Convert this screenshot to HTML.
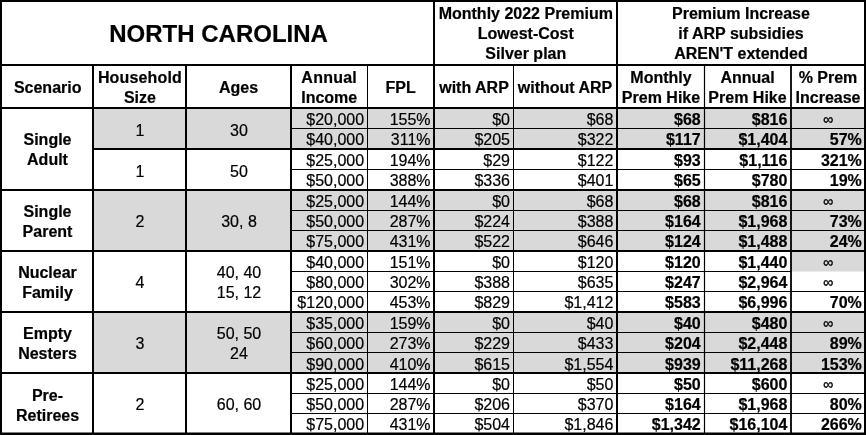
<!DOCTYPE html>
<html lang="en">
<head>
<meta charset="utf-8">
<title>North Carolina – ARP premium scenarios</title>
<style>
html,body{margin:0;padding:0;background:#fff;}
body{width:866px;height:435px;overflow:hidden;}
svg{display:block;will-change:transform;}
text{font-family:"Liberation Sans",Arial,Helvetica,sans-serif;font-size:16px;fill:#000;stroke:#000;stroke-width:0.2px;}
.b{font-weight:bold;}
.m{text-anchor:middle;}
.r{text-anchor:end;}
.t{font-size:24px;font-weight:bold;text-anchor:middle;}
.i{font-size:14px;text-anchor:middle;stroke-width:0.35px;}
</style>
</head>
<body>
<svg width="866" height="435" viewBox="0 0 866 435">
<rect x="0" y="0" width="866" height="435" fill="#fff"/>
<g fill="#d9d9d9">
<rect x="93" y="108.00" width="772" height="41.00"/>
<rect x="93" y="190.00" width="772" height="61.00"/>
<rect x="93" y="312.00" width="772" height="61.00"/>
<rect x="791" y="251.00" width="74" height="20.50"/>
</g>
<g stroke="#000" stroke-width="1">
<line x1="291" y1="128.50" x2="865" y2="128.50"/>
<line x1="291" y1="169.50" x2="865" y2="169.50"/>
<line x1="291" y1="210.50" x2="865" y2="210.50"/>
<line x1="291" y1="230.50" x2="865" y2="230.50"/>
<line x1="291" y1="271.50" x2="791" y2="271.50"/>
<line x1="291" y1="291.50" x2="865" y2="291.50"/>
<line x1="291" y1="332.50" x2="865" y2="332.50"/>
<line x1="291" y1="352.50" x2="865" y2="352.50"/>
<line x1="291" y1="393.50" x2="865" y2="393.50"/>
<line x1="291" y1="413.50" x2="865" y2="413.50"/>
</g>
<line x1="367.5" y1="65" x2="367.5" y2="434" stroke="#000" stroke-width="1"/>
<line x1="513.5" y1="65" x2="513.5" y2="434" stroke="#000" stroke-width="1"/>
<line x1="704.5" y1="65" x2="704.5" y2="434" stroke="#000" stroke-width="1.2"/>
<line x1="791.0" y1="65" x2="791.0" y2="434" stroke="#000" stroke-width="1.8"/>
<g stroke="#000" stroke-width="2">
<line x1="1" y1="0" x2="1" y2="435"/>
<line x1="93" y1="65" x2="93" y2="435"/>
<line x1="186" y1="65" x2="186" y2="435"/>
<line x1="291" y1="65" x2="291" y2="435"/>
<line x1="434" y1="0" x2="434" y2="435"/>
<line x1="617" y1="0" x2="617" y2="435"/>
<line x1="865" y1="0" x2="865" y2="435"/>
<line x1="0" y1="0.9" x2="866" y2="0.9"/>
<line x1="0" y1="65" x2="866" y2="65"/>
<line x1="0" y1="108.00" x2="866" y2="108.00"/>
<line x1="93" y1="149.00" x2="866" y2="149.00"/>
<line x1="0" y1="190.00" x2="866" y2="190.00"/>
<line x1="0" y1="251.00" x2="866" y2="251.00"/>
<line x1="0" y1="312.00" x2="866" y2="312.00"/>
<line x1="0" y1="373.00" x2="866" y2="373.00"/>
<line x1="0" y1="433.75" x2="866" y2="433.75" stroke-width="2.5"/>
</g>
<text class="t" x="218.6" y="41.7">NORTH CAROLINA</text>
<g class="b m">
<text x="525.8" y="18.70">Monthly 2022 Premium</text>
<text x="525.8" y="38.70">Lowest-Cost</text>
<text x="525.8" y="58.70">Silver plan</text>
<text x="741" y="18.70">Premium Increase</text>
<text x="741" y="38.70">if ARP subsidies</text>
<text x="741" y="58.70">AREN'T extended</text>
<text x="47.7" y="92.8">Scenario</text>
<text x="139.9" y="82.8" style="letter-spacing:0.15px">Household</text>
<text x="139.9" y="102.8">Size</text>
<text x="238.5" y="92.8">Ages</text>
<text x="329.2" y="82.8" style="letter-spacing:0.25px">Annual</text>
<text x="329.2" y="102.8">Income</text>
<text x="400.7" y="92.8">FPL</text>
<text x="474" y="92.8">with ARP</text>
<text x="565" y="92.8">without ARP</text>
<text x="661" y="82.8">Monthly</text>
<text x="661" y="102.8">Prem Hike</text>
<text x="747.5" y="82.8">Annual</text>
<text x="747.5" y="102.8">Prem Hike</text>
<text x="828" y="82.8">% Prem</text>
<text x="828" y="102.8">Increase</text>
<text x="47.5" y="145.20">Single</text>
<text x="47.5" y="165.20">Adult</text>
<text x="47.5" y="216.50">Single</text>
<text x="47.5" y="236.50">Parent</text>
<text x="47.5" y="277.90">Nuclear</text>
<text x="47.5" y="297.90">Family</text>
<text x="47.5" y="338.60">Empty</text>
<text x="47.5" y="358.60">Nesters</text>
<text x="47.5" y="400.57">Pre-</text>
<text x="47.5" y="420.57">Retirees</text>
</g>
<g class="m">
<text x="140" y="135.50">1</text>
<text x="239" y="135.50">30</text>
<text x="140" y="176.70">1</text>
<text x="239" y="176.70">50</text>
<text x="140" y="226.70">2</text>
<text x="239" y="226.70">30, 8</text>
<text x="140" y="287.90">4</text>
<text x="239" y="278.10">40, 40</text>
<text x="239" y="298.10">15, 12</text>
<text x="140" y="348.50">3</text>
<text x="239" y="339.10">50, 50</text>
<text x="239" y="359.10">24</text>
<text x="140" y="410.38">2</text>
<text x="239" y="410.38">60, 60</text>
</g>
<g class="r"><text x="364.1" y="124.80">$20,000</text><text x="430.6" y="124.80">155%</text><text x="510.0" y="124.80">$0</text><text x="613.4" y="124.80">$68</text><text class="b" x="700.7" y="124.80">$68</text><text class="b" x="787.4" y="124.80">$816</text><text class="i" x="828" y="123.90">∞</text></g>
<g class="r"><text x="364.1" y="145.20">$40,000</text><text x="430.6" y="145.20">311%</text><text x="510.0" y="145.20">$205</text><text x="613.4" y="145.20">$322</text><text class="b" x="700.7" y="145.20">$117</text><text class="b" x="787.4" y="145.20">$1,404</text><text class="b" x="861.8" y="145.20">57%</text></g>
<g class="r"><text x="364.1" y="166.10">$25,000</text><text x="430.6" y="166.10">194%</text><text x="510.0" y="166.10">$29</text><text x="613.4" y="166.10">$122</text><text class="b" x="700.7" y="166.10">$93</text><text class="b" x="787.4" y="166.10">$1,116</text><text class="b" x="861.8" y="166.10">321%</text></g>
<g class="r"><text x="364.1" y="186.30">$50,000</text><text x="430.6" y="186.30">388%</text><text x="510.0" y="186.30">$336</text><text x="613.4" y="186.30">$401</text><text class="b" x="700.7" y="186.30">$65</text><text class="b" x="787.4" y="186.30">$780</text><text class="b" x="861.8" y="186.30">19%</text></g>
<g class="r"><text x="364.1" y="207.30">$25,000</text><text x="430.6" y="207.30">144%</text><text x="510.0" y="207.30">$0</text><text x="613.4" y="207.30">$68</text><text class="b" x="700.7" y="207.30">$68</text><text class="b" x="787.4" y="207.30">$816</text><text class="i" x="828" y="206.40">∞</text></g>
<g class="r"><text x="364.1" y="227.10">$50,000</text><text x="430.6" y="227.10">287%</text><text x="510.0" y="227.10">$224</text><text x="613.4" y="227.10">$388</text><text class="b" x="700.7" y="227.10">$164</text><text class="b" x="787.4" y="227.10">$1,968</text><text class="b" x="861.8" y="227.10">73%</text></g>
<g class="r"><text x="364.1" y="247.30">$75,000</text><text x="430.6" y="247.30">431%</text><text x="510.0" y="247.30">$522</text><text x="613.4" y="247.30">$646</text><text class="b" x="700.7" y="247.30">$124</text><text class="b" x="787.4" y="247.30">$1,488</text><text class="b" x="861.8" y="247.30">24%</text></g>
<g class="r"><text x="364.1" y="268.20">$40,000</text><text x="430.6" y="268.20">151%</text><text x="510.0" y="268.20">$0</text><text x="613.4" y="268.20">$120</text><text class="b" x="700.7" y="268.20">$120</text><text class="b" x="787.4" y="268.20">$1,440</text><text class="i" x="828" y="267.30">∞</text></g>
<g class="r"><text x="364.1" y="288.10">$80,000</text><text x="430.6" y="288.10">302%</text><text x="510.0" y="288.10">$388</text><text x="613.4" y="288.10">$635</text><text class="b" x="700.7" y="288.10">$247</text><text class="b" x="787.4" y="288.10">$2,964</text><text class="i" x="828" y="287.20">∞</text></g>
<g class="r"><text x="364.1" y="308.20">$120,000</text><text x="430.6" y="308.20">453%</text><text x="510.0" y="308.20">$829</text><text x="613.4" y="308.20">$1,412</text><text class="b" x="700.7" y="308.20">$583</text><text class="b" x="787.4" y="308.20">$6,996</text><text class="b" x="861.8" y="308.20">70%</text></g>
<g class="r"><text x="364.1" y="329.00">$35,000</text><text x="430.6" y="329.00">159%</text><text x="510.0" y="329.00">$0</text><text x="613.4" y="329.00">$40</text><text class="b" x="700.7" y="329.00">$40</text><text class="b" x="787.4" y="329.00">$480</text><text class="i" x="828" y="328.10">∞</text></g>
<g class="r"><text x="364.1" y="349.00">$60,000</text><text x="430.6" y="349.00">273%</text><text x="510.0" y="349.00">$229</text><text x="613.4" y="349.00">$433</text><text class="b" x="700.7" y="349.00">$204</text><text class="b" x="787.4" y="349.00">$2,448</text><text class="b" x="861.8" y="349.00">89%</text></g>
<g class="r"><text x="364.1" y="369.60">$90,000</text><text x="430.6" y="369.60">410%</text><text x="510.0" y="369.60">$615</text><text x="613.4" y="369.60">$1,554</text><text class="b" x="700.7" y="369.60">$939</text><text class="b" x="787.4" y="369.60">$11,268</text><text class="b" x="861.8" y="369.60">153%</text></g>
<g class="r"><text x="364.1" y="390.00">$25,000</text><text x="430.6" y="390.00">144%</text><text x="510.0" y="390.00">$0</text><text x="613.4" y="390.00">$50</text><text class="b" x="700.7" y="390.00">$50</text><text class="b" x="787.4" y="390.00">$600</text><text class="i" x="828" y="389.10">∞</text></g>
<g class="r"><text x="364.1" y="409.50">$50,000</text><text x="430.6" y="409.50">287%</text><text x="510.0" y="409.50">$206</text><text x="613.4" y="409.50">$370</text><text class="b" x="700.7" y="409.50">$164</text><text class="b" x="787.4" y="409.50">$1,968</text><text class="b" x="861.8" y="409.50">80%</text></g>
<g class="r"><text x="364.1" y="429.50">$75,000</text><text x="430.6" y="429.50">431%</text><text x="510.0" y="429.50">$504</text><text x="613.4" y="429.50">$1,846</text><text class="b" x="700.7" y="429.50">$1,342</text><text class="b" x="787.4" y="429.50">$16,104</text><text class="b" x="861.8" y="429.50">266%</text></g>
</svg>
</body>
</html>
